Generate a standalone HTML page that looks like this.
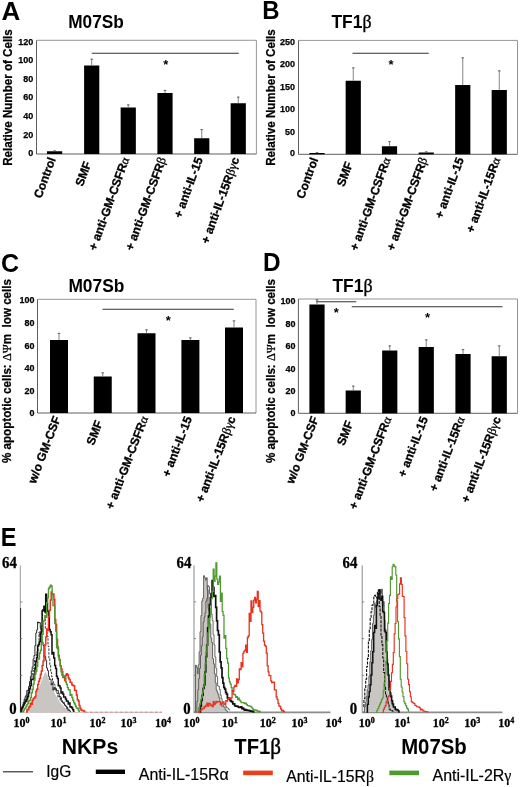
<!DOCTYPE html>
<html><head><meta charset="utf-8"><title>Figure</title>
<style>
html,body{margin:0;padding:0;background:#fff;}
body{width:520px;height:787px;overflow:hidden;font-family:"Liberation Sans",sans-serif;}
svg{display:block;will-change:transform;}
text{fill:#000;}
</style></head><body>
<svg width="520" height="787" viewBox="0 0 520 787">
<rect x="0" y="0" width="520" height="787" fill="#fff"/>
<text x="1.5" y="19.5" font-family='"Liberation Sans", sans-serif' font-size="26" font-weight="bold" text-anchor="start" >A</text>
<text x="68.2" y="27.6" font-family='"Liberation Sans", sans-serif' font-size="18.7" font-weight="bold" text-anchor="start" lengthAdjust="spacingAndGlyphs" textLength="55.6">M07Sb</text>
<path d="M36.5 40.3 H256.4 V154" fill="none" stroke="#969696" stroke-width="1"/>
<path d="M36.5 40.3 V154 H256.4" fill="none" stroke="#5e5e5e" stroke-width="1"/>
<text x="33.2" y="44.58" font-family='"Liberation Sans", sans-serif' font-size="9.3" font-weight="bold" text-anchor="end" lengthAdjust="spacingAndGlyphs" textLength="15.0" stroke="#000" stroke-width="0.25">120</text>
<text x="33.2" y="63.33" font-family='"Liberation Sans", sans-serif' font-size="9.3" font-weight="bold" text-anchor="end" lengthAdjust="spacingAndGlyphs" textLength="15.0" stroke="#000" stroke-width="0.25">100</text>
<text x="33.2" y="82.08" font-family='"Liberation Sans", sans-serif' font-size="9.3" font-weight="bold" text-anchor="end" lengthAdjust="spacingAndGlyphs" textLength="10.0" stroke="#000" stroke-width="0.25">80</text>
<text x="33.2" y="100.33" font-family='"Liberation Sans", sans-serif' font-size="9.3" font-weight="bold" text-anchor="end" lengthAdjust="spacingAndGlyphs" textLength="10.0" stroke="#000" stroke-width="0.25">60</text>
<text x="33.2" y="118.83" font-family='"Liberation Sans", sans-serif' font-size="9.3" font-weight="bold" text-anchor="end" lengthAdjust="spacingAndGlyphs" textLength="10.0" stroke="#000" stroke-width="0.25">40</text>
<text x="33.2" y="137.83" font-family='"Liberation Sans", sans-serif' font-size="9.3" font-weight="bold" text-anchor="end" lengthAdjust="spacingAndGlyphs" textLength="10.0" stroke="#000" stroke-width="0.25">20</text>
<text x="33.2" y="156.33" font-family='"Liberation Sans", sans-serif' font-size="9.3" font-weight="bold" text-anchor="end" lengthAdjust="spacingAndGlyphs" textLength="5.0" stroke="#000" stroke-width="0.25">0</text>
<rect x="47.0" y="151.25" width="15.2" height="2.75" fill="#000"/>
<line x1="54.6" y1="150.4" x2="54.6" y2="151.25" stroke="#666" stroke-width="0.8"/>
<line x1="53.300000000000004" y1="150.8" x2="55.9" y2="150.8" stroke="#555" stroke-width="0.9"/>
<text transform="translate(55.9 159.0) rotate(-70)" font-family='"Liberation Sans", sans-serif' font-size="12" font-weight="bold" text-anchor="end" stroke="#000" stroke-width="0.3">Control</text>
<rect x="84.10000000000001" y="65.5" width="15.2" height="88.5" fill="#000"/>
<line x1="91.7" y1="58.8" x2="91.7" y2="65.5" stroke="#666" stroke-width="0.8"/>
<line x1="90.4" y1="59.199999999999996" x2="93.0" y2="59.199999999999996" stroke="#555" stroke-width="0.9"/>
<text transform="translate(91.46 163.23) rotate(-70)" font-family='"Liberation Sans", sans-serif' font-size="12" font-weight="bold" text-anchor="end" stroke="#000" stroke-width="0.3">SMF</text>
<rect x="120.65" y="107.5" width="15.2" height="46.5" fill="#000"/>
<line x1="128.25" y1="104.5" x2="128.25" y2="107.5" stroke="#666" stroke-width="0.8"/>
<line x1="126.95" y1="104.9" x2="129.55" y2="104.9" stroke="#555" stroke-width="0.9"/>
<text transform="translate(129.55 159.0) rotate(-70)" font-family='"Liberation Sans", sans-serif' font-size="12" font-weight="bold" text-anchor="end" stroke="#000" stroke-width="0.3">+ anti-GM-CSFR<tspan font-family='"Liberation Serif", serif' font-weight="normal" font-size="12.5" stroke="#000" stroke-width="0.3">α</tspan></text>
<rect x="157.4" y="93" width="15.2" height="61" fill="#000"/>
<line x1="165" y1="90" x2="165" y2="93" stroke="#666" stroke-width="0.8"/>
<line x1="163.7" y1="90.4" x2="166.3" y2="90.4" stroke="#555" stroke-width="0.9"/>
<text transform="translate(166.3 159.0) rotate(-70)" font-family='"Liberation Sans", sans-serif' font-size="12" font-weight="bold" text-anchor="end" stroke="#000" stroke-width="0.3">+ anti-GM-CSFR<tspan font-family='"Liberation Serif", serif' font-weight="normal" font-size="12.5" stroke="#000" stroke-width="0.3">β</tspan></text>
<rect x="194.15" y="138.25" width="15.2" height="15.75" fill="#000"/>
<line x1="201.75" y1="129.25" x2="201.75" y2="138.25" stroke="#666" stroke-width="0.8"/>
<line x1="200.45" y1="129.65" x2="203.05" y2="129.65" stroke="#555" stroke-width="0.9"/>
<text transform="translate(203.05 159.0) rotate(-70)" font-family='"Liberation Sans", sans-serif' font-size="12" font-weight="bold" text-anchor="end" stroke="#000" stroke-width="0.3">+ anti-IL-15</text>
<rect x="230.65" y="103.25" width="15.2" height="50.75" fill="#000"/>
<line x1="238.25" y1="96.75" x2="238.25" y2="103.25" stroke="#666" stroke-width="0.8"/>
<line x1="236.95" y1="97.15" x2="239.55" y2="97.15" stroke="#555" stroke-width="0.9"/>
<text transform="translate(239.55 159.0) rotate(-70)" font-family='"Liberation Sans", sans-serif' font-size="12" font-weight="bold" text-anchor="end" stroke="#000" stroke-width="0.3">+ anti-IL-15R<tspan font-family='"Liberation Serif", serif' font-weight="normal" font-size="12.5" stroke="#000" stroke-width="0.3">β</tspan><tspan font-family='"Liberation Serif", serif' font-weight="normal" font-size="12.5" stroke="#000" stroke-width="0.3">γ</tspan>c</text>
<line x1="91.75" y1="53.25" x2="238.75" y2="53.25" stroke="#333" stroke-width="1"/>
<text x="165.75" y="69" font-family='"Liberation Sans", sans-serif' font-size="13" font-weight="bold" text-anchor="middle" >*</text>
<text transform="translate(12.1 97.5) rotate(-90)" font-family='"Liberation Sans", sans-serif' font-size="12.2" font-weight="bold" text-anchor="middle" stroke="#000" stroke-width="0.25" textLength="136.6" lengthAdjust="spacingAndGlyphs">Relative Number of Cells</text>
<text x="262.2" y="18.7" font-family='"Liberation Sans", sans-serif' font-size="25.2" font-weight="bold" text-anchor="start" lengthAdjust="spacingAndGlyphs" textLength="17.3">B</text>
<text x="331.5" y="27.5" font-family='"Liberation Sans", sans-serif' font-size="18.5" font-weight="bold" text-anchor="start" lengthAdjust="spacingAndGlyphs" textLength="40">TF1<tspan font-family='"Liberation Serif", serif' font-weight="normal" font-size="19" stroke="#000" stroke-width="0.4">β</tspan></text>
<path d="M298.5 40.4 H517.5 V154.3" fill="none" stroke="#969696" stroke-width="1"/>
<path d="M298.5 40.4 V154.3 H517.5" fill="none" stroke="#5e5e5e" stroke-width="1"/>
<text x="295" y="44.58" font-family='"Liberation Sans", sans-serif' font-size="9.3" font-weight="bold" text-anchor="end" lengthAdjust="spacingAndGlyphs" textLength="15.0" stroke="#000" stroke-width="0.25">250</text>
<text x="295" y="67.08" font-family='"Liberation Sans", sans-serif' font-size="9.3" font-weight="bold" text-anchor="end" lengthAdjust="spacingAndGlyphs" textLength="15.0" stroke="#000" stroke-width="0.25">200</text>
<text x="295" y="89.58" font-family='"Liberation Sans", sans-serif' font-size="9.3" font-weight="bold" text-anchor="end" lengthAdjust="spacingAndGlyphs" textLength="15.0" stroke="#000" stroke-width="0.25">150</text>
<text x="295" y="112.08" font-family='"Liberation Sans", sans-serif' font-size="9.3" font-weight="bold" text-anchor="end" lengthAdjust="spacingAndGlyphs" textLength="15.0" stroke="#000" stroke-width="0.25">100</text>
<text x="295" y="134.58" font-family='"Liberation Sans", sans-serif' font-size="9.3" font-weight="bold" text-anchor="end" lengthAdjust="spacingAndGlyphs" textLength="10.0" stroke="#000" stroke-width="0.25">50</text>
<text x="295" y="156.33" font-family='"Liberation Sans", sans-serif' font-size="9.3" font-weight="bold" text-anchor="end" lengthAdjust="spacingAndGlyphs" textLength="5.0" stroke="#000" stroke-width="0.25">0</text>
<rect x="309.4" y="153" width="15.2" height="1.3000000000000114" fill="#000"/>
<line x1="317" y1="152.3" x2="317" y2="153" stroke="#666" stroke-width="0.8"/>
<line x1="315.7" y1="152.70000000000002" x2="318.3" y2="152.70000000000002" stroke="#555" stroke-width="0.9"/>
<text transform="translate(318.3 159.3) rotate(-70)" font-family='"Liberation Sans", sans-serif' font-size="12" font-weight="bold" text-anchor="end" stroke="#000" stroke-width="0.3">Control</text>
<rect x="345.65" y="80.75" width="15.2" height="73.55000000000001" fill="#000"/>
<line x1="353.25" y1="67.5" x2="353.25" y2="80.75" stroke="#666" stroke-width="0.8"/>
<line x1="351.95" y1="67.9" x2="354.55" y2="67.9" stroke="#555" stroke-width="0.9"/>
<text transform="translate(353.01 163.53) rotate(-70)" font-family='"Liberation Sans", sans-serif' font-size="12" font-weight="bold" text-anchor="end" stroke="#000" stroke-width="0.3">SMF</text>
<rect x="381.9" y="146.25" width="15.2" height="8.050000000000011" fill="#000"/>
<line x1="389.5" y1="141.25" x2="389.5" y2="146.25" stroke="#666" stroke-width="0.8"/>
<line x1="388.2" y1="141.65" x2="390.8" y2="141.65" stroke="#555" stroke-width="0.9"/>
<text transform="translate(390.8 159.3) rotate(-70)" font-family='"Liberation Sans", sans-serif' font-size="12" font-weight="bold" text-anchor="end" stroke="#000" stroke-width="0.3">+ anti-GM-CSFR<tspan font-family='"Liberation Serif", serif' font-weight="normal" font-size="12.5" stroke="#000" stroke-width="0.3">α</tspan></text>
<rect x="418.65" y="152.5" width="15.2" height="1.8000000000000114" fill="#000"/>
<line x1="426.25" y1="151.5" x2="426.25" y2="152.5" stroke="#666" stroke-width="0.8"/>
<line x1="424.95" y1="151.9" x2="427.55" y2="151.9" stroke="#555" stroke-width="0.9"/>
<text transform="translate(427.55 159.3) rotate(-70)" font-family='"Liberation Sans", sans-serif' font-size="12" font-weight="bold" text-anchor="end" stroke="#000" stroke-width="0.3">+ anti-GM-CSFR<tspan font-family='"Liberation Serif", serif' font-weight="normal" font-size="12.5" stroke="#000" stroke-width="0.3">β</tspan></text>
<rect x="455.15" y="85" width="15.2" height="69.30000000000001" fill="#000"/>
<line x1="462.75" y1="57.5" x2="462.75" y2="85" stroke="#666" stroke-width="0.8"/>
<line x1="461.45" y1="57.9" x2="464.05" y2="57.9" stroke="#555" stroke-width="0.9"/>
<text transform="translate(464.05 159.3) rotate(-70)" font-family='"Liberation Sans", sans-serif' font-size="12" font-weight="bold" text-anchor="end" stroke="#000" stroke-width="0.3">+ anti-IL-15</text>
<rect x="491.65" y="90" width="15.2" height="64.30000000000001" fill="#000"/>
<line x1="499.25" y1="70.5" x2="499.25" y2="90" stroke="#666" stroke-width="0.8"/>
<line x1="497.95" y1="70.9" x2="500.55" y2="70.9" stroke="#555" stroke-width="0.9"/>
<text transform="translate(500.55 159.3) rotate(-70)" font-family='"Liberation Sans", sans-serif' font-size="12" font-weight="bold" text-anchor="end" stroke="#000" stroke-width="0.3">+ anti-IL-15R<tspan font-family='"Liberation Serif", serif' font-weight="normal" font-size="12.5" stroke="#000" stroke-width="0.3">α</tspan></text>
<line x1="352.5" y1="53.25" x2="428.75" y2="53.25" stroke="#333" stroke-width="1"/>
<text x="391" y="68.5" font-family='"Liberation Sans", sans-serif' font-size="13" font-weight="bold" text-anchor="middle" >*</text>
<text transform="translate(274.8 97.5) rotate(-90)" font-family='"Liberation Sans", sans-serif' font-size="12.2" font-weight="bold" text-anchor="middle" stroke="#000" stroke-width="0.25" textLength="136.6" lengthAdjust="spacingAndGlyphs">Relative Number of Cells</text>
<text x="0.9" y="271.8" font-family='"Liberation Sans", sans-serif' font-size="25" font-weight="bold" text-anchor="start" >C</text>
<text x="68.4" y="292" font-family='"Liberation Sans", sans-serif' font-size="18.7" font-weight="bold" text-anchor="start" lengthAdjust="spacingAndGlyphs" textLength="56">M07Sb</text>
<path d="M37.5 299.3 H256.0 V413" fill="none" stroke="#969696" stroke-width="1"/>
<path d="M37.5 299.3 V413 H256.0" fill="none" stroke="#5e5e5e" stroke-width="1"/>
<text x="34.5" y="303.07" font-family='"Liberation Sans", sans-serif' font-size="9.7" font-weight="bold" text-anchor="end" lengthAdjust="spacingAndGlyphs" textLength="15.0" stroke="#000" stroke-width="0.25">100</text>
<text x="34.5" y="326.37" font-family='"Liberation Sans", sans-serif' font-size="9.7" font-weight="bold" text-anchor="end" lengthAdjust="spacingAndGlyphs" textLength="10.0" stroke="#000" stroke-width="0.25">80</text>
<text x="34.5" y="348.87" font-family='"Liberation Sans", sans-serif' font-size="9.7" font-weight="bold" text-anchor="end" lengthAdjust="spacingAndGlyphs" textLength="10.0" stroke="#000" stroke-width="0.25">60</text>
<text x="34.5" y="371.37" font-family='"Liberation Sans", sans-serif' font-size="9.7" font-weight="bold" text-anchor="end" lengthAdjust="spacingAndGlyphs" textLength="10.0" stroke="#000" stroke-width="0.25">40</text>
<text x="34.5" y="393.87" font-family='"Liberation Sans", sans-serif' font-size="9.7" font-weight="bold" text-anchor="end" lengthAdjust="spacingAndGlyphs" textLength="10.0" stroke="#000" stroke-width="0.25">20</text>
<text x="34.5" y="416.17" font-family='"Liberation Sans", sans-serif' font-size="9.7" font-weight="bold" text-anchor="end" lengthAdjust="spacingAndGlyphs" textLength="5.0" stroke="#000" stroke-width="0.25">0</text>
<rect x="50.0" y="340" width="18" height="73" fill="#000"/>
<line x1="59" y1="333" x2="59" y2="340" stroke="#666" stroke-width="0.8"/>
<line x1="57.7" y1="333.4" x2="60.3" y2="333.4" stroke="#555" stroke-width="0.9"/>
<text transform="translate(60.8 418.2) rotate(-69)" font-family='"Liberation Sans", sans-serif' font-size="12" font-weight="bold" text-anchor="end" stroke="#000" stroke-width="0.3">w/o GM-CSF</text>
<rect x="93.75" y="376.5" width="18" height="36.5" fill="#000"/>
<line x1="102.75" y1="372.5" x2="102.75" y2="376.5" stroke="#666" stroke-width="0.8"/>
<line x1="101.45" y1="372.9" x2="104.05" y2="372.9" stroke="#555" stroke-width="0.9"/>
<text transform="translate(102.94 422.4) rotate(-69)" font-family='"Liberation Sans", sans-serif' font-size="12" font-weight="bold" text-anchor="end" stroke="#000" stroke-width="0.3">SMF</text>
<rect x="137.5" y="333.25" width="18" height="79.75" fill="#000"/>
<line x1="146.5" y1="329.5" x2="146.5" y2="333.25" stroke="#666" stroke-width="0.8"/>
<line x1="145.2" y1="329.9" x2="147.8" y2="329.9" stroke="#555" stroke-width="0.9"/>
<text transform="translate(148.3 418.2) rotate(-69)" font-family='"Liberation Sans", sans-serif' font-size="12" font-weight="bold" text-anchor="end" stroke="#000" stroke-width="0.3">+ anti-GM-CSFR<tspan font-family='"Liberation Serif", serif' font-weight="normal" font-size="12.5" stroke="#000" stroke-width="0.3">α</tspan></text>
<rect x="181.4" y="340" width="18" height="73" fill="#000"/>
<line x1="190.4" y1="337.5" x2="190.4" y2="340" stroke="#666" stroke-width="0.8"/>
<line x1="189.1" y1="337.9" x2="191.70000000000002" y2="337.9" stroke="#555" stroke-width="0.9"/>
<text transform="translate(192.2 418.2) rotate(-69)" font-family='"Liberation Sans", sans-serif' font-size="12" font-weight="bold" text-anchor="end" stroke="#000" stroke-width="0.3">+ anti-IL-15</text>
<rect x="225.0" y="327.5" width="18" height="85.5" fill="#000"/>
<line x1="234" y1="320.5" x2="234" y2="327.5" stroke="#666" stroke-width="0.8"/>
<line x1="232.7" y1="320.9" x2="235.3" y2="320.9" stroke="#555" stroke-width="0.9"/>
<text transform="translate(235.8 418.2) rotate(-69)" font-family='"Liberation Sans", sans-serif' font-size="12" font-weight="bold" text-anchor="end" stroke="#000" stroke-width="0.3">+ anti-IL-15R<tspan font-family='"Liberation Serif", serif' font-weight="normal" font-size="12.5" stroke="#000" stroke-width="0.3">β</tspan><tspan font-family='"Liberation Serif", serif' font-weight="normal" font-size="12.5" stroke="#000" stroke-width="0.3">γ</tspan>c</text>
<line x1="102.5" y1="309.25" x2="233.75" y2="309.25" stroke="#333" stroke-width="1"/>
<text x="168.25" y="324.75" font-family='"Liberation Sans", sans-serif' font-size="13" font-weight="bold" text-anchor="middle" >*</text>
<text transform="translate(11.2 371) rotate(-90)" font-family='"Liberation Sans", sans-serif' font-size="12.4" font-weight="bold" text-anchor="middle" stroke="#000" stroke-width="0.25" textLength="184" lengthAdjust="spacingAndGlyphs">% apoptotic cells: <tspan font-family='"Liberation Serif", serif' font-weight="normal" font-size="13">ΔΨ</tspan>m&#160;&#160;low cells</text>
<text x="263.0" y="271.1" font-family='"Liberation Sans", sans-serif' font-size="25.5" font-weight="bold" text-anchor="start" lengthAdjust="spacingAndGlyphs" textLength="17.6">D</text>
<text x="332.5" y="291.6" font-family='"Liberation Sans", sans-serif' font-size="18.5" font-weight="bold" text-anchor="start" lengthAdjust="spacingAndGlyphs" textLength="40">TF1<tspan font-family='"Liberation Serif", serif' font-weight="normal" font-size="19" stroke="#000" stroke-width="0.4">β</tspan></text>
<path d="M298.4 299 H517.5 V413.3" fill="none" stroke="#969696" stroke-width="1"/>
<path d="M298.4 299 V413.3 H517.5" fill="none" stroke="#5e5e5e" stroke-width="1"/>
<text x="295.4" y="304.07" font-family='"Liberation Sans", sans-serif' font-size="9.7" font-weight="bold" text-anchor="end" lengthAdjust="spacingAndGlyphs" textLength="15.0" stroke="#000" stroke-width="0.25">100</text>
<text x="295.4" y="326.57" font-family='"Liberation Sans", sans-serif' font-size="9.7" font-weight="bold" text-anchor="end" lengthAdjust="spacingAndGlyphs" textLength="10.0" stroke="#000" stroke-width="0.25">80</text>
<text x="295.4" y="349.07" font-family='"Liberation Sans", sans-serif' font-size="9.7" font-weight="bold" text-anchor="end" lengthAdjust="spacingAndGlyphs" textLength="10.0" stroke="#000" stroke-width="0.25">60</text>
<text x="295.4" y="371.57" font-family='"Liberation Sans", sans-serif' font-size="9.7" font-weight="bold" text-anchor="end" lengthAdjust="spacingAndGlyphs" textLength="10.0" stroke="#000" stroke-width="0.25">40</text>
<text x="295.4" y="394.07" font-family='"Liberation Sans", sans-serif' font-size="9.7" font-weight="bold" text-anchor="end" lengthAdjust="spacingAndGlyphs" textLength="10.0" stroke="#000" stroke-width="0.25">20</text>
<text x="295.4" y="416.47" font-family='"Liberation Sans", sans-serif' font-size="9.7" font-weight="bold" text-anchor="end" lengthAdjust="spacingAndGlyphs" textLength="5.0" stroke="#000" stroke-width="0.25">0</text>
<rect x="309.4" y="304.5" width="15.2" height="108.80000000000001" fill="#000"/>
<line x1="317" y1="299.5" x2="317" y2="304.5" stroke="#666" stroke-width="0.8"/>
<line x1="315.7" y1="299.9" x2="318.3" y2="299.9" stroke="#555" stroke-width="0.9"/>
<text transform="translate(318.8 418.5) rotate(-69)" font-family='"Liberation Sans", sans-serif' font-size="12" font-weight="bold" text-anchor="end" stroke="#000" stroke-width="0.3">w/o GM-CSF</text>
<rect x="345.65" y="390.5" width="15.2" height="22.80000000000001" fill="#000"/>
<line x1="353.25" y1="385.75" x2="353.25" y2="390.5" stroke="#666" stroke-width="0.8"/>
<line x1="351.95" y1="386.15" x2="354.55" y2="386.15" stroke="#555" stroke-width="0.9"/>
<text transform="translate(353.44 422.7) rotate(-69)" font-family='"Liberation Sans", sans-serif' font-size="12" font-weight="bold" text-anchor="end" stroke="#000" stroke-width="0.3">SMF</text>
<rect x="382.15" y="350.5" width="15.2" height="62.80000000000001" fill="#000"/>
<line x1="389.75" y1="345.5" x2="389.75" y2="350.5" stroke="#666" stroke-width="0.8"/>
<line x1="388.45" y1="345.9" x2="391.05" y2="345.9" stroke="#555" stroke-width="0.9"/>
<text transform="translate(391.55 418.5) rotate(-69)" font-family='"Liberation Sans", sans-serif' font-size="12" font-weight="bold" text-anchor="end" stroke="#000" stroke-width="0.3">+ anti-GM-CSFR<tspan font-family='"Liberation Serif", serif' font-weight="normal" font-size="12.5" stroke="#000" stroke-width="0.3">α</tspan></text>
<rect x="418.65" y="347" width="15.2" height="66.30000000000001" fill="#000"/>
<line x1="426.25" y1="339.5" x2="426.25" y2="347" stroke="#666" stroke-width="0.8"/>
<line x1="424.95" y1="339.9" x2="427.55" y2="339.9" stroke="#555" stroke-width="0.9"/>
<text transform="translate(428.05 418.5) rotate(-69)" font-family='"Liberation Sans", sans-serif' font-size="12" font-weight="bold" text-anchor="end" stroke="#000" stroke-width="0.3">+ anti-IL-15</text>
<rect x="455.4" y="354" width="15.2" height="59.30000000000001" fill="#000"/>
<line x1="463" y1="349.25" x2="463" y2="354" stroke="#666" stroke-width="0.8"/>
<line x1="461.7" y1="349.65" x2="464.3" y2="349.65" stroke="#555" stroke-width="0.9"/>
<text transform="translate(464.8 418.5) rotate(-69)" font-family='"Liberation Sans", sans-serif' font-size="12" font-weight="bold" text-anchor="end" stroke="#000" stroke-width="0.3">+ anti-IL-15R<tspan font-family='"Liberation Serif", serif' font-weight="normal" font-size="12.5" stroke="#000" stroke-width="0.3">α</tspan></text>
<rect x="491.65" y="356.25" width="15.2" height="57.05000000000001" fill="#000"/>
<line x1="499.25" y1="345.5" x2="499.25" y2="356.25" stroke="#666" stroke-width="0.8"/>
<line x1="497.95" y1="345.9" x2="500.55" y2="345.9" stroke="#555" stroke-width="0.9"/>
<text transform="translate(501.05 418.5) rotate(-69)" font-family='"Liberation Sans", sans-serif' font-size="12" font-weight="bold" text-anchor="end" stroke="#000" stroke-width="0.3">+ anti-IL-15R<tspan font-family='"Liberation Serif", serif' font-weight="normal" font-size="12.5" stroke="#000" stroke-width="0.3">β</tspan><tspan font-family='"Liberation Serif", serif' font-weight="normal" font-size="12.5" stroke="#000" stroke-width="0.3">γ</tspan>c</text>
<line x1="316.25" y1="301.75" x2="356.25" y2="301.75" stroke="#333" stroke-width="1"/>
<line x1="351.75" y1="306.75" x2="502.5" y2="306.75" stroke="#333" stroke-width="1"/>
<text x="336.25" y="316.5" font-family='"Liberation Sans", sans-serif' font-size="13" font-weight="bold" text-anchor="middle" >*</text>
<text x="427.5" y="321.5" font-family='"Liberation Sans", sans-serif' font-size="13" font-weight="bold" text-anchor="middle" >*</text>
<text transform="translate(275 371) rotate(-90)" font-family='"Liberation Sans", sans-serif' font-size="12.4" font-weight="bold" text-anchor="middle" stroke="#000" stroke-width="0.25" textLength="184" lengthAdjust="spacingAndGlyphs">% apoptotic cells: <tspan font-family='"Liberation Serif", serif' font-weight="normal" font-size="13">ΔΨ</tspan>m&#160;&#160;low cells</text>
<text x="0.8" y="546" font-family='"Liberation Sans", sans-serif' font-size="25.3" font-weight="bold" text-anchor="start" lengthAdjust="spacingAndGlyphs" textLength="15.7">E</text>
<line x1="20.3" y1="565.4" x2="20.3" y2="608" stroke="#999" stroke-width="1"/>
<line x1="20.5" y1="608" x2="20.5" y2="713" stroke="#333" stroke-width="1.2"/>
<line x1="20.3" y1="601.9" x2="22.3" y2="601.9" stroke="#777" stroke-width="0.9"/>
<line x1="20.3" y1="638.6" x2="22.3" y2="638.6" stroke="#777" stroke-width="0.9"/>
<line x1="20.3" y1="675.4" x2="22.3" y2="675.4" stroke="#777" stroke-width="0.9"/>
<line x1="20.3" y1="712.3" x2="162" y2="712.3" stroke="#cfc6c4" stroke-width="1.2"/>
<text x="2" y="568.2" font-family='"Liberation Serif", serif' font-size="16.3" font-weight="bold" text-anchor="start" lengthAdjust="spacingAndGlyphs" textLength="14.8" stroke="#000" stroke-width="0.3">64</text>
<text x="9.3" y="714.1" font-family='"Liberation Serif", serif' font-size="16.3" font-weight="bold" text-anchor="start" lengthAdjust="spacingAndGlyphs" textLength="7.4" stroke="#000" stroke-width="0.3">0</text>
<text x="13.5" y="726.5" font-family='"Liberation Serif", serif' font-size="12" font-weight="bold" text-anchor="start" stroke="#000" stroke-width="0.3">10<tspan font-size="8" dy="-4">0</tspan></text>
<text x="50.6" y="726.5" font-family='"Liberation Serif", serif' font-size="12" font-weight="bold" text-anchor="start" stroke="#000" stroke-width="0.3">10<tspan font-size="8" dy="-4">1</tspan></text>
<text x="89.60000000000001" y="726.5" font-family='"Liberation Serif", serif' font-size="12" font-weight="bold" text-anchor="start" stroke="#000" stroke-width="0.3">10<tspan font-size="8" dy="-4">2</tspan></text>
<text x="120.4" y="726.5" font-family='"Liberation Serif", serif' font-size="12" font-weight="bold" text-anchor="start" stroke="#000" stroke-width="0.3">10<tspan font-size="8" dy="-4">3</tspan></text>
<text x="154.9" y="726.5" font-family='"Liberation Serif", serif' font-size="12" font-weight="bold" text-anchor="start" stroke="#000" stroke-width="0.3">10<tspan font-size="8" dy="-4">4</tspan></text>
<path transform="translate(0 0.8)" d="M25.5 711.3 L31 701 L36 694 L38.9 687 L42.5 678 L45.4 670.4 L48 677 L51.8 686 L56 695 L61 702.6 L66 708 L70.2 711.3 Z" fill="#c9c5c2"/>
<path transform="translate(0 0.8)" d="M20.5 711.2 L21.4 711.2 L21.4 708.5 L22.3 708.5 L22.3 705.7 L23.2 705.7 L23.2 701.6 L24.1 701.6 L24.1 698.6 L25.0 698.6 L25.0 695.9 L25.9 695.9 L25.9 694.4 L26.8 694.4 L26.8 689.5 L27.7 689.5 L27.7 690.1 L28.6 690.1 L28.6 685.6 L29.5 685.6 L29.5 680.7 L30.4 680.7 L30.4 675.7 L31.3 675.7 L31.3 670.1 L32.2 670.1 L32.2 666.2 L33.1 666.2 L33.1 658.2 L34.0 658.2 L34.0 654.7 L34.9 654.7 L34.9 644.8 L35.8 644.8 L35.8 632.2 L36.7 632.2 L36.7 629.1 L37.6 629.1 L37.6 621.2 L38.5 621.2 L38.5 622.2 L39.4 622.2 L39.4 621.7 L40.3 621.7 L40.3 627.1 L41.2 627.1 L41.2 642.0 L42.1 642.0 L42.1 641.1 L43.0 641.1 L43.0 644.7 L43.9 644.7 L43.9 656.1 L44.8 656.1 L44.8 655.8 L45.7 655.8 L45.7 659.6 L46.6 659.6 L46.6 667.3 L47.5 667.3 L47.5 669.7 L48.4 669.7 L48.4 675.5 L49.3 675.5 L49.3 678.6 L50.2 678.6 L50.2 678.4 L51.1 678.4 L51.1 684.1 L52.0 684.1 L52.0 682.2 L52.9 682.2 L52.9 689.3 L53.8 689.3 L53.8 686.7 L54.7 686.7 L54.7 688.8 L55.6 688.8 L55.6 687.9 L56.5 687.9 L56.5 689.9 L57.4 689.9 L57.4 689.6 L58.3 689.6 L58.3 692.6 L59.2 692.6 L59.2 695.8 L60.1 695.8 L60.1 696.0 L61.0 696.0 L61.0 700.3 L61.9 700.3 L61.9 701.0 L62.8 701.0 L62.8 702.0 L63.7 702.0 L63.7 703.2 L64.6 703.2 L64.6 704.4 L65.5 704.4 L65.5 705.2 L66.4 705.2 L66.4 706.0 L67.3 706.0 L67.3 708.0 L68.2 708.0 L68.2 708.5 L69.1 708.5 L69.1 709.7 L70.0 709.7 L70.0 710.8 L70.9 710.8" fill="none" stroke="#111" stroke-width="0.9" stroke-linejoin="miter" opacity="1"/>
<path transform="translate(0 0.8)" d="M21.0 711.0 L21.9 711.0 L21.9 708.7 L22.8 708.7 L22.8 706.2 L23.7 706.2 L23.7 703.7 L24.6 703.7 L24.6 701.2 L25.5 701.2 L25.5 697.2 L26.4 697.2 L26.4 695.2 L27.3 695.2 L27.3 692.2 L28.2 692.2 L28.2 689.8 L29.1 689.8 L29.1 686.2 L30.0 686.2 L30.0 682.7 L30.9 682.7 L30.9 676.3 L31.8 676.3 L31.8 676.3 L32.7 676.3 L32.7 670.6 L33.6 670.6 L33.6 667.3 L34.5 667.3 L34.5 659.2 L35.4 659.2 L35.4 660.9 L36.3 660.9 L36.3 652.2 L37.2 652.2 L37.2 650.0 L38.1 650.0 L38.1 643.8 L39.0 643.8 L39.0 631.2 L39.9 631.2 L39.9 634.3 L40.8 634.3 L40.8 625.2 L41.7 625.2 L41.7 630.2 L42.6 630.2 L42.6 608.7 L43.5 608.7 L43.5 608.9 L44.4 608.9 L44.4 609.9 L45.3 609.9 L45.3 628.4 L46.2 628.4 L46.2 628.5 L47.1 628.5 L47.1 635.2 L48.0 635.2 L48.0 645.6 L48.9 645.6 L48.9 657.8 L49.8 657.8 L49.8 664.3 L50.7 664.3 L50.7 671.5 L51.6 671.5 L51.6 675.9 L52.5 675.9 L52.5 680.9 L53.4 680.9 L53.4 682.9 L54.3 682.9 L54.3 684.1 L55.2 684.1 L55.2 688.7 L56.1 688.7 L56.1 691.7 L57.0 691.7 L57.0 692.8 L57.9 692.8 L57.9 696.6 L58.8 696.6 L58.8 695.7 L59.7 695.7 L59.7 698.4 L60.6 698.4 L60.6 696.9 L61.5 696.9 L61.5 698.9 L62.4 698.9 L62.4 701.2 L63.3 701.2 L63.3 701.0 L64.2 701.0 L64.2 703.2 L65.1 703.2 L65.1 705.0 L66.0 705.0 L66.0 706.4 L66.9 706.4 L66.9 708.5 L67.8 708.5 L67.8 709.6 L68.7 709.6" fill="none" stroke="#222" stroke-width="0.9" stroke-linejoin="miter" opacity="1" stroke-dasharray="2.5 1.2"/>
<path transform="translate(0 0.8)" d="M20.5 710.1 L21.4 710.1 L21.4 707.3 L22.3 707.3 L22.3 706.1 L23.2 706.1 L23.2 704.3 L24.1 704.3 L24.1 702.7 L25.0 702.7 L25.0 700.4 L25.9 700.4 L25.9 700.8 L26.8 700.8 L26.8 698.3 L27.7 698.3 L27.7 695.7 L28.6 695.7 L28.6 692.0 L29.5 692.0 L29.5 688.0 L30.4 688.0 L30.4 684.7 L31.3 684.7 L31.3 678.5 L32.2 678.5 L32.2 678.6 L33.1 678.6 L33.1 678.3 L34.0 678.3 L34.0 673.4 L34.9 673.4 L34.9 667.9 L35.8 667.9 L35.8 660.8 L36.7 660.8 L36.7 657.0 L37.6 657.0 L37.6 645.2 L38.5 645.2 L38.5 643.6 L39.4 643.6 L39.4 640.6 L40.3 640.6 L40.3 633.0 L41.2 633.0 L41.2 630.9 L42.1 630.9 L42.1 610.2 L43.0 610.2 L43.0 608.9 L43.9 608.9 L43.9 605.4 L44.8 605.4 L44.8 610.9 L45.7 610.9 L45.7 593.5 L46.6 593.5 L46.6 603.0 L47.5 603.0 L47.5 610.4 L48.4 610.4 L48.4 614.1 L49.3 614.1 L49.3 628.6 L50.2 628.6 L50.2 630.9 L51.1 630.9 L51.1 633.9 L52.0 633.9 L52.0 653.1 L52.9 653.1 L52.9 651.8 L53.8 651.8 L53.8 657.1 L54.7 657.1 L54.7 664.6 L55.6 664.6 L55.6 667.7 L56.5 667.7 L56.5 675.5 L57.4 675.5 L57.4 677.7 L58.3 677.7 L58.3 684.8 L59.2 684.8 L59.2 685.1 L60.1 685.1 L60.1 687.3 L61.0 687.3 L61.0 692.1 L61.9 692.1 L61.9 691.2 L62.8 691.2 L62.8 693.2 L63.7 693.2 L63.7 696.3 L64.6 696.3 L64.6 696.2 L65.5 696.2 L65.5 698.3 L66.4 698.3 L66.4 700.3 L67.3 700.3 L67.3 700.4 L68.2 700.4 L68.2 703.1 L69.1 703.1 L69.1 702.1 L70.0 702.1 L70.0 706.1 L70.9 706.1 L70.9 706.0 L71.8 706.0 L71.8 707.3 L72.7 707.3 L72.7 708.9 L73.6 708.9 L73.6 710.5 L74.5 710.5" fill="none" stroke="#111" stroke-width="1.5" stroke-linejoin="miter" opacity="1"/>
<path transform="translate(0 0.8)" d="M26.0 711.1 L26.9 711.1 L26.9 709.2 L27.8 709.2 L27.8 708.6 L28.7 708.6 L28.7 706.5 L29.6 706.5 L29.6 705.8 L30.5 705.8 L30.5 702.4 L31.4 702.4 L31.4 703.5 L32.3 703.5 L32.3 699.4 L33.2 699.4 L33.2 697.8 L34.1 697.8 L34.1 697.2 L35.0 697.2 L35.0 695.9 L35.9 695.9 L35.9 690.4 L36.8 690.4 L36.8 688.5 L37.7 688.5 L37.7 683.7 L38.6 683.7 L38.6 680.5 L39.5 680.5 L39.5 677.8 L40.4 677.8 L40.4 673.6 L41.3 673.6 L41.3 670.3 L42.2 670.3 L42.2 664.8 L43.1 664.8 L43.1 660.2 L44.0 660.2 L44.0 654.9 L44.9 654.9 L44.9 643.9 L45.8 643.9 L45.8 636.3 L46.7 636.3 L46.7 628.3 L47.6 628.3 L47.6 629.6 L48.5 629.6 L48.5 615.9 L49.4 615.9 L49.4 609.5 L50.3 609.5 L50.3 599.3 L51.2 599.3 L51.2 591.2 L52.1 591.2 L52.1 593.7 L53.0 593.7 L53.0 593.1 L53.9 593.1 L53.9 598.8 L54.8 598.8 L54.8 618.6 L55.7 618.6 L55.7 623.6 L56.6 623.6 L56.6 638.4 L57.5 638.4 L57.5 648.0 L58.4 648.0 L58.4 654.6 L59.3 654.6 L59.3 658.6 L60.2 658.6 L60.2 664.9 L61.1 664.9 L61.1 668.3 L62.0 668.3 L62.0 674.3 L62.9 674.3 L62.9 676.6 L63.8 676.6 L63.8 675.4 L64.7 675.4 L64.7 679.6 L65.6 679.6 L65.6 674.4 L66.5 674.4 L66.5 672.9 L67.4 672.9 L67.4 674.2 L68.3 674.2 L68.3 677.3 L69.2 677.3 L69.2 678.7 L70.1 678.7 L70.1 681.4 L71.0 681.4 L71.0 681.6 L71.9 681.6 L71.9 684.1 L72.8 684.1 L72.8 684.7 L73.7 684.7 L73.7 684.9 L74.6 684.9 L74.6 689.4 L75.5 689.4 L75.5 689.6 L76.4 689.6 L76.4 694.3 L77.3 694.3 L77.3 699.0 L78.2 699.0 L78.2 700.1 L79.1 700.1 L79.1 704.6 L80.0 704.6 L80.0 707.5 L80.9 707.5 L80.9 709.2 L81.8 709.2 L81.8 709.8 L82.7 709.8 L82.7 709.7 L83.6 709.7 L83.6 710.2 L84.5 710.2 L84.5 710.8 L85.4 710.8" fill="none" stroke="#e8321e" stroke-width="1.5" stroke-linejoin="miter" opacity="1"/>
<path transform="translate(0 0.8)" d="M22.4 711.1 L23.3 711.1 L23.3 709.8 L24.2 709.8 L24.2 708.1 L25.1 708.1 L25.1 707.2 L26.0 707.2 L26.0 705.5 L26.9 705.5 L26.9 703.8 L27.8 703.8 L27.8 702.5 L28.7 702.5 L28.7 700.1 L29.6 700.1 L29.6 699.6 L30.5 699.6 L30.5 696.8 L31.4 696.8 L31.4 692.1 L32.3 692.1 L32.3 688.7 L33.2 688.7 L33.2 683.3 L34.1 683.3 L34.1 679.2 L35.0 679.2 L35.0 673.3 L35.9 673.3 L35.9 670.4 L36.8 670.4 L36.8 665.4 L37.7 665.4 L37.7 658.2 L38.6 658.2 L38.6 658.2 L39.5 658.2 L39.5 652.2 L40.4 652.2 L40.4 649.5 L41.3 649.5 L41.3 642.4 L42.2 642.4 L42.2 633.5 L43.1 633.5 L43.1 620.5 L44.0 620.5 L44.0 619.6 L44.9 619.6 L44.9 615.0 L45.8 615.0 L45.8 616.6 L46.7 616.6 L46.7 601.9 L47.6 601.9 L47.6 597.1 L48.5 597.1 L48.5 587.7 L49.4 587.7 L49.4 586.2 L50.3 586.2 L50.3 584.4 L51.2 584.4 L51.2 585.4 L52.1 585.4 L52.1 594.4 L53.0 594.4 L53.0 604.7 L53.9 604.7 L53.9 604.6 L54.8 604.6 L54.8 622.7 L55.7 622.7 L55.7 630.3 L56.6 630.3 L56.6 646.7 L57.5 646.7 L57.5 645.8 L58.4 645.8 L58.4 656.3 L59.3 656.3 L59.3 659.3 L60.2 659.3 L60.2 664.8 L61.1 664.8 L61.1 670.9 L62.0 670.9 L62.0 671.0 L62.9 671.0 L62.9 675.5 L63.8 675.5 L63.8 675.7 L64.7 675.7 L64.7 675.4 L65.6 675.4 L65.6 681.2 L66.5 681.2 L66.5 683.6 L67.4 683.6 L67.4 686.8 L68.3 686.8 L68.3 689.0 L69.2 689.0 L69.2 689.1 L70.1 689.1 L70.1 694.4 L71.0 694.4 L71.0 693.6 L71.9 693.6 L71.9 696.7 L72.8 696.7 L72.8 699.4 L73.7 699.4 L73.7 701.7 L74.6 701.7 L74.6 703.2 L75.5 703.2 L75.5 705.5 L76.4 705.5 L76.4 707.2 L77.3 707.2 L77.3 707.5 L78.2 707.5 L78.2 709.3 L79.1 709.3 L79.1 710.6 L80.0 710.6" fill="none" stroke="#4f9a2e" stroke-width="1.4" stroke-linejoin="miter" opacity="1"/>
<line x1="85" y1="712.1" x2="162" y2="712.1" stroke="#e8321e" stroke-width="1" stroke-dasharray="2.5 2.5" opacity="0.45"/>
<text x="61.8" y="754" font-family='"Liberation Sans", sans-serif' font-size="22" font-weight="bold" text-anchor="start" lengthAdjust="spacingAndGlyphs" textLength="56.4">NKPs</text>
<line x1="194" y1="565.4" x2="194" y2="713" stroke="#8a8a8a" stroke-width="1"/>
<line x1="194" y1="601.9" x2="196" y2="601.9" stroke="#777" stroke-width="0.9"/>
<line x1="194" y1="638.6" x2="196" y2="638.6" stroke="#777" stroke-width="0.9"/>
<line x1="194" y1="675.4" x2="196" y2="675.4" stroke="#777" stroke-width="0.9"/>
<line x1="194" y1="712.3" x2="330.5" y2="712.3" stroke="#8c8c8c" stroke-width="1.7"/>
<text x="176.6" y="568.2" font-family='"Liberation Serif", serif' font-size="16.3" font-weight="bold" text-anchor="start" lengthAdjust="spacingAndGlyphs" textLength="14.8" stroke="#000" stroke-width="0.3">64</text>
<text x="183.2" y="714.1" font-family='"Liberation Serif", serif' font-size="16.3" font-weight="bold" text-anchor="start" lengthAdjust="spacingAndGlyphs" textLength="7.4" stroke="#000" stroke-width="0.3">0</text>
<text x="183.5" y="726.5" font-family='"Liberation Serif", serif' font-size="12" font-weight="bold" text-anchor="start" stroke="#000" stroke-width="0.3">10<tspan font-size="8" dy="-4">0</tspan></text>
<text x="221.8" y="726.5" font-family='"Liberation Serif", serif' font-size="12" font-weight="bold" text-anchor="start" stroke="#000" stroke-width="0.3">10<tspan font-size="8" dy="-4">1</tspan></text>
<text x="259.7" y="726.5" font-family='"Liberation Serif", serif' font-size="12" font-weight="bold" text-anchor="start" stroke="#000" stroke-width="0.3">10<tspan font-size="8" dy="-4">2</tspan></text>
<text x="291.4" y="726.5" font-family='"Liberation Serif", serif' font-size="12" font-weight="bold" text-anchor="start" stroke="#000" stroke-width="0.3">10<tspan font-size="8" dy="-4">3</tspan></text>
<text x="325.59999999999997" y="726.5" font-family='"Liberation Serif", serif' font-size="12" font-weight="bold" text-anchor="start" stroke="#000" stroke-width="0.3">10<tspan font-size="8" dy="-4">4</tspan></text>
<path transform="translate(0 0.8)" d="M194.6 711.1 L195.5 711.1 L195.5 664.4 L196.4 664.4 L196.4 666.5 L197.3 666.5 L197.3 673.0 L198.2 673.0 L198.2 664.2 L199.1 664.2 L199.1 651.1 L200.0 651.1 L200.0 630.9 L200.9 630.9 L200.9 614.7 L201.8 614.7 L201.8 600.1 L202.7 600.1 L202.7 597.4 L203.6 597.4 L203.6 574.9 L204.5 574.9 L204.5 576.8 L205.4 576.8 L205.4 579.3 L206.3 579.3 L206.3 577.0 L207.2 577.0 L207.2 588.9 L208.1 588.9 L208.1 607.8 L209.0 607.8 L209.0 610.4 L209.9 610.4 L209.9 623.1 L210.8 623.1 L210.8 637.1 L211.7 637.1 L211.7 641.7 L212.6 641.7 L212.6 657.7 L213.5 657.7 L213.5 663.0 L214.4 663.0 L214.4 672.9 L215.3 672.9 L215.3 682.0 L216.2 682.0 L216.2 689.2 L217.1 689.2 L217.1 691.4 L218.0 691.4 L218.0 693.8 L218.9 693.8 L218.9 696.8 L219.8 696.8 L219.8 701.0 L220.7 701.0 L220.7 703.1 L221.6 703.1 L221.6 705.5 L222.5 705.5 L222.5 705.6 L223.4 705.6 L223.4 706.0 L224.3 706.0 L224.3 706.4 L225.2 706.4 L225.2 709.0 L226.1 709.0 L226.1 709.5 L227.0 709.5 L227.0 710.9 L227.9 710.9 Z" fill="#c9c5c2" stroke="none"/>
<path transform="translate(0 0.8)" d="M194.6 711.1 L195.5 711.1 L195.5 664.4 L196.4 664.4 L196.4 666.5 L197.3 666.5 L197.3 673.0 L198.2 673.0 L198.2 664.2 L199.1 664.2 L199.1 651.1 L200.0 651.1 L200.0 630.9 L200.9 630.9 L200.9 614.7 L201.8 614.7 L201.8 600.1 L202.7 600.1 L202.7 597.4 L203.6 597.4 L203.6 574.9 L204.5 574.9 L204.5 576.8 L205.4 576.8 L205.4 579.3 L206.3 579.3 L206.3 577.0 L207.2 577.0 L207.2 588.9 L208.1 588.9 L208.1 607.8 L209.0 607.8 L209.0 610.4 L209.9 610.4 L209.9 623.1 L210.8 623.1 L210.8 637.1 L211.7 637.1 L211.7 641.7 L212.6 641.7 L212.6 657.7 L213.5 657.7 L213.5 663.0 L214.4 663.0 L214.4 672.9 L215.3 672.9 L215.3 682.0 L216.2 682.0 L216.2 689.2 L217.1 689.2 L217.1 691.4 L218.0 691.4 L218.0 693.8 L218.9 693.8 L218.9 696.8 L219.8 696.8 L219.8 701.0 L220.7 701.0 L220.7 703.1 L221.6 703.1 L221.6 705.5 L222.5 705.5 L222.5 705.6 L223.4 705.6 L223.4 706.0 L224.3 706.0 L224.3 706.4 L225.2 706.4 L225.2 709.0 L226.1 709.0 L226.1 709.5 L227.0 709.5 L227.0 710.9 L227.9 710.9" fill="none" stroke="#555" stroke-width="0.9" stroke-linejoin="miter" opacity="1"/>
<path transform="translate(0 0.8)" d="M196.0 711.0 L196.9 711.0 L196.9 700.5 L197.8 700.5 L197.8 688.9 L198.7 688.9 L198.7 677.9 L199.6 677.9 L199.6 667.5 L200.5 667.5 L200.5 654.3 L201.4 654.3 L201.4 645.1 L202.3 645.1 L202.3 636.0 L203.2 636.0 L203.2 621.3 L204.1 621.3 L204.1 616.2 L205.0 616.2 L205.0 612.0 L205.9 612.0 L205.9 600.2 L206.8 600.2 L206.8 597.6 L207.7 597.6 L207.7 584.7 L208.6 584.7 L208.6 586.0 L209.5 586.0 L209.5 593.0 L210.4 593.0 L210.4 597.8 L211.3 597.8 L211.3 613.4 L212.2 613.4 L212.2 619.7 L213.1 619.7 L213.1 634.0 L214.0 634.0 L214.0 644.1 L214.9 644.1 L214.9 656.3 L215.8 656.3 L215.8 667.4 L216.7 667.4 L216.7 675.8 L217.6 675.8 L217.6 685.1 L218.5 685.1 L218.5 685.6 L219.4 685.6 L219.4 688.7 L220.3 688.7 L220.3 694.3 L221.2 694.3 L221.2 697.8 L222.1 697.8 L222.1 702.1 L223.0 702.1 L223.0 704.8 L223.9 704.8 L223.9 703.8 L224.8 703.8 L224.8 703.5 L225.7 703.5 L225.7 705.8 L226.6 705.8 L226.6 707.1 L227.5 707.1 L227.5 707.3 L228.4 707.3 L228.4 708.4 L229.3 708.4 L229.3 709.2 L230.2 709.2" fill="none" stroke="#444" stroke-width="0.8" stroke-linejoin="miter" opacity="1"/>
<path transform="translate(0 0.8)" d="M199.5 711.0 L200.4 711.0 L200.4 705.4 L201.3 705.4 L201.3 699.7 L202.2 699.7 L202.2 694.5 L203.1 694.5 L203.1 687.7 L204.0 687.7 L204.0 684.2 L204.9 684.2 L204.9 671.1 L205.8 671.1 L205.8 655.9 L206.7 655.9 L206.7 644.4 L207.6 644.4 L207.6 627.1 L208.5 627.1 L208.5 615.4 L209.4 615.4 L209.4 603.7 L210.3 603.7 L210.3 597.2 L211.2 597.2 L211.2 592.8 L212.1 592.8 L212.1 579.7 L213.0 579.7 L213.0 586.7 L213.9 586.7 L213.9 595.7 L214.8 595.7 L214.8 594.9 L215.7 594.9 L215.7 606.5 L216.6 606.5 L216.6 620.1 L217.5 620.1 L217.5 629.7 L218.4 629.7 L218.4 634.0 L219.3 634.0 L219.3 651.2 L220.2 651.2 L220.2 661.0 L221.1 661.0 L221.1 667.1 L222.0 667.1 L222.0 676.9 L222.9 676.9 L222.9 682.4 L223.8 682.4 L223.8 686.5 L224.7 686.5 L224.7 688.4 L225.6 688.4 L225.6 691.6 L226.5 691.6 L226.5 693.3 L227.4 693.3 L227.4 697.0 L228.3 697.0 L228.3 697.3 L229.2 697.3 L229.2 698.4 L230.1 698.4 L230.1 699.9 L231.0 699.9 L231.0 700.6 L231.9 700.6 L231.9 701.0 L232.8 701.0 L232.8 703.2 L233.7 703.2 L233.7 703.0 L234.6 703.0 L234.6 704.8 L235.5 704.8 L235.5 705.4 L236.4 705.4 L236.4 705.2 L237.3 705.2 L237.3 705.6 L238.2 705.6 L238.2 706.2 L239.1 706.2 L239.1 706.6 L240.0 706.6 L240.0 706.3 L240.9 706.3 L240.9 706.1 L241.8 706.1 L241.8 707.9 L242.7 707.9 L242.7 707.4 L243.6 707.4 L243.6 708.6 L244.5 708.6 L244.5 709.4 L245.4 709.4 L245.4 708.9 L246.3 708.9 L246.3 709.2 L247.2 709.2 L247.2 709.6 L248.1 709.6 L248.1 709.6 L249.0 709.6 L249.0 709.8 L249.9 709.8 L249.9 710.1 L250.8 710.1 L250.8 710.3 L251.7 710.3 L251.7 710.6 L252.6 710.6 L252.6 710.5 L253.5 710.5 L253.5 711.0 L254.4 711.0" fill="none" stroke="#111" stroke-width="1.7" stroke-linejoin="miter" opacity="1"/>
<path transform="translate(0 0.8)" d="M197.9 711.1 L198.8 711.1 L198.8 706.7 L199.7 706.7 L199.7 703.1 L200.6 703.1 L200.6 699.1 L201.5 699.1 L201.5 696.6 L202.4 696.6 L202.4 691.4 L203.3 691.4 L203.3 685.2 L204.2 685.2 L204.2 673.9 L205.1 673.9 L205.1 662.7 L206.0 662.7 L206.0 650.8 L206.9 650.8 L206.9 644.4 L207.8 644.4 L207.8 632.0 L208.7 632.0 L208.7 617.8 L209.6 617.8 L209.6 616.4 L210.5 616.4 L210.5 608.0 L211.4 608.0 L211.4 597.9 L212.3 597.9 L212.3 590.5 L213.2 590.5 L213.2 568.4 L214.1 568.4 L214.1 580.6 L215.0 580.6 L215.0 575.3 L215.9 575.3 L215.9 562.0 L216.8 562.0 L216.8 578.4 L217.7 578.4 L217.7 583.5 L218.6 583.5 L218.6 581.0 L219.5 581.0 L219.5 575.4 L220.4 575.4 L220.4 600.5 L221.3 600.5 L221.3 592.2 L222.2 592.2 L222.2 610.9 L223.1 610.9 L223.1 614.5 L224.0 614.5 L224.0 637.4 L224.9 637.4 L224.9 634.9 L225.8 634.9 L225.8 647.6 L226.7 647.6 L226.7 657.6 L227.6 657.6 L227.6 662.4 L228.5 662.4 L228.5 677.3 L229.4 677.3 L229.4 681.1 L230.3 681.1 L230.3 683.4 L231.2 683.4 L231.2 686.8 L232.1 686.8 L232.1 689.5 L233.0 689.5 L233.0 692.7 L233.9 692.7 L233.9 693.9 L234.8 693.9 L234.8 694.1 L235.7 694.1 L235.7 696.5 L236.6 696.5 L236.6 695.9 L237.5 695.9 L237.5 698.8 L238.4 698.8 L238.4 697.4 L239.3 697.4 L239.3 699.4 L240.2 699.4 L240.2 700.3 L241.1 700.3 L241.1 701.7 L242.0 701.7 L242.0 701.8 L242.9 701.8 L242.9 701.9 L243.8 701.9 L243.8 702.3 L244.7 702.3 L244.7 702.8 L245.6 702.8 L245.6 702.3 L246.5 702.3 L246.5 703.7 L247.4 703.7 L247.4 704.8 L248.3 704.8 L248.3 704.8 L249.2 704.8 L249.2 705.4 L250.1 705.4 L250.1 705.4 L251.0 705.4 L251.0 706.1 L251.9 706.1 L251.9 707.4 L252.8 707.4 L252.8 708.2 L253.7 708.2 L253.7 709.5 L254.6 709.5 L254.6 709.0 L255.5 709.0 L255.5 709.4 L256.4 709.4 L256.4 709.6 L257.3 709.6 L257.3 710.2 L258.2 710.2 L258.2 710.6 L259.1 710.6 L259.1 710.2 L260.0 710.2 L260.0 711.0 L260.9 711.0" fill="none" stroke="#4f9a2e" stroke-width="1.25" stroke-linejoin="miter" opacity="1"/>
<path transform="translate(0 0.8)" d="M197.9 711.3 L198.8 711.3 L198.8 710.8 L199.7 710.8 L199.7 709.6 L200.6 709.6 L200.6 709.3 L201.5 709.3 L201.5 708.3 L202.4 708.3 L202.4 707.7 L203.3 707.7 L203.3 707.7 L204.2 707.7 L204.2 705.7 L205.1 705.7 L205.1 706.0 L206.0 706.0 L206.0 704.4 L206.9 704.4 L206.9 702.4 L207.8 702.4 L207.8 705.2 L208.7 705.2 L208.7 702.5 L209.6 702.5 L209.6 703.0 L210.5 703.0 L210.5 704.9 L211.4 704.9 L211.4 704.3 L212.3 704.3 L212.3 705.9 L213.2 705.9 L213.2 700.9 L214.1 700.9 L214.1 703.8 L215.0 703.8 L215.0 702.5 L215.9 702.5 L215.9 700.5 L216.8 700.5 L216.8 701.3 L217.7 701.3 L217.7 700.9 L218.6 700.9 L218.6 700.8 L219.5 700.8 L219.5 700.9 L220.4 700.9 L220.4 703.9 L221.3 703.9 L221.3 702.9 L222.2 702.9 L222.2 701.5 L223.1 701.5 L223.1 701.2 L224.0 701.2 L224.0 703.0 L224.9 703.0 L224.9 703.3 L225.8 703.3 L225.8 699.9 L226.7 699.9 L226.7 700.2 L227.6 700.2 L227.6 698.3 L228.5 698.3 L228.5 697.5 L229.4 697.5 L229.4 697.1 L230.3 697.1 L230.3 698.2 L231.2 698.2 L231.2 697.1 L232.1 697.1 L232.1 689.9 L233.0 689.9 L233.0 690.8 L233.9 690.8 L233.9 686.0 L234.8 686.0 L234.8 684.5 L235.7 684.5 L235.7 685.6 L236.6 685.6 L236.6 678.2 L237.5 678.2 L237.5 682.0 L238.4 682.0 L238.4 678.7 L239.3 678.7 L239.3 668.2 L240.2 668.2 L240.2 668.7 L241.1 668.7 L241.1 661.8 L242.0 661.8 L242.0 666.0 L242.9 666.0 L242.9 652.6 L243.8 652.6 L243.8 650.6 L244.7 650.6 L244.7 649.5 L245.6 649.5 L245.6 644.3 L246.5 644.3 L246.5 651.6 L247.4 651.6 L247.4 636.7 L248.3 636.7 L248.3 635.0 L249.2 635.0 L249.2 612.6 L250.1 612.6 L250.1 620.5 L251.0 620.5 L251.0 600.2 L251.9 600.2 L251.9 611.9 L252.8 611.9 L252.8 606.5 L253.7 606.5 L253.7 599.3 L254.6 599.3 L254.6 596.5 L255.5 596.5 L255.5 602.0 L256.4 602.0 L256.4 598.4 L257.3 598.4 L257.3 590.7 L258.2 590.7 L258.2 605.9 L259.1 605.9 L259.1 599.9 L260.0 599.9 L260.0 610.0 L260.9 610.0 L260.9 611.4 L261.8 611.4 L261.8 623.8 L262.7 623.8 L262.7 632.4 L263.6 632.4 L263.6 640.3 L264.5 640.3 L264.5 644.3 L265.4 644.3 L265.4 645.6 L266.3 645.6 L266.3 652.4 L267.2 652.4 L267.2 664.9 L268.1 664.9 L268.1 671.0 L269.0 671.0 L269.0 674.9 L269.9 674.9 L269.9 674.9 L270.8 674.9 L270.8 680.0 L271.7 680.0 L271.7 681.9 L272.6 681.9 L272.6 681.5 L273.5 681.5 L273.5 681.3 L274.4 681.3 L274.4 689.1 L275.3 689.1 L275.3 689.0 L276.2 689.0 L276.2 696.2 L277.1 696.2 L277.1 698.5 L278.0 698.5 L278.0 702.5 L278.9 702.5 L278.9 705.1 L279.8 705.1 L279.8 705.7 L280.7 705.7 L280.7 708.2 L281.6 708.2 L281.6 710.1 L282.5 710.1 L282.5 709.5 L283.4 709.5 L283.4 710.6 L284.3 710.6 L284.3 711.1 L285.2 711.1" fill="none" stroke="#e8321e" stroke-width="1.3" stroke-linejoin="miter" opacity="1"/>
<text x="234.3" y="754" font-family='"Liberation Sans", sans-serif' font-size="21.6" font-weight="bold" text-anchor="start" lengthAdjust="spacingAndGlyphs" textLength="46.8">TF1<tspan font-family='"Liberation Serif", serif' font-weight="normal" font-size="22.5" stroke="#000" stroke-width="0.45">β</tspan></text>
<line x1="362.2" y1="565.4" x2="362.2" y2="713" stroke="#8a8a8a" stroke-width="1"/>
<line x1="362.2" y1="601.9" x2="364.2" y2="601.9" stroke="#777" stroke-width="0.9"/>
<line x1="362.2" y1="638.6" x2="364.2" y2="638.6" stroke="#777" stroke-width="0.9"/>
<line x1="362.2" y1="675.4" x2="364.2" y2="675.4" stroke="#777" stroke-width="0.9"/>
<line x1="362.2" y1="712.3" x2="502.5" y2="712.3" stroke="#8c8c8c" stroke-width="1.7"/>
<text x="342.6" y="568.2" font-family='"Liberation Serif", serif' font-size="16.3" font-weight="bold" text-anchor="start" lengthAdjust="spacingAndGlyphs" textLength="14.8" stroke="#000" stroke-width="0.3">64</text>
<text x="349.8" y="714.1" font-family='"Liberation Serif", serif' font-size="16.3" font-weight="bold" text-anchor="start" lengthAdjust="spacingAndGlyphs" textLength="7.4" stroke="#000" stroke-width="0.3">0</text>
<text x="358.79999999999995" y="726.5" font-family='"Liberation Serif", serif' font-size="12" font-weight="bold" text-anchor="start" stroke="#000" stroke-width="0.3">10<tspan font-size="8" dy="-4">0</tspan></text>
<text x="394.2" y="726.5" font-family='"Liberation Serif", serif' font-size="12" font-weight="bold" text-anchor="start" stroke="#000" stroke-width="0.3">10<tspan font-size="8" dy="-4">1</tspan></text>
<text x="432.7" y="726.5" font-family='"Liberation Serif", serif' font-size="12" font-weight="bold" text-anchor="start" stroke="#000" stroke-width="0.3">10<tspan font-size="8" dy="-4">2</tspan></text>
<text x="464.29999999999995" y="726.5" font-family='"Liberation Serif", serif' font-size="12" font-weight="bold" text-anchor="start" stroke="#000" stroke-width="0.3">10<tspan font-size="8" dy="-4">3</tspan></text>
<text x="498.2" y="726.5" font-family='"Liberation Serif", serif' font-size="12" font-weight="bold" text-anchor="start" stroke="#000" stroke-width="0.3">10<tspan font-size="8" dy="-4">4</tspan></text>
<path transform="translate(0 0.8)" d="M363.5 711.3 L364.4 711.3 L364.4 706.3 L365.3 706.3 L365.3 701.6 L366.2 701.6 L366.2 695.5 L367.1 695.5 L367.1 688.9 L368.0 688.9 L368.0 684.2 L368.9 684.2 L368.9 675.4 L369.8 675.4 L369.8 661.0 L370.7 661.0 L370.7 650.0 L371.6 650.0 L371.6 638.7 L372.5 638.7 L372.5 622.6 L373.4 622.6 L373.4 614.3 L374.3 614.3 L374.3 603.1 L375.2 603.1 L375.2 606.4 L376.1 606.4 L376.1 601.2 L377.0 601.2 L377.0 599.2 L377.9 599.2 L377.9 593.0 L378.8 593.0 L378.8 592.5 L379.7 592.5 L379.7 589.7 L380.6 589.7 L380.6 592.6 L381.5 592.6 L381.5 588.3 L382.4 588.3 L382.4 605.0 L383.3 605.0 L383.3 600.7 L384.2 600.7 L384.2 619.4 L385.1 619.4 L385.1 628.2 L386.0 628.2 L386.0 642.5 L386.9 642.5 L386.9 657.6 L387.8 657.6 L387.8 667.8 L388.7 667.8 L388.7 680.1 L389.6 680.1 L389.6 690.5 L390.5 690.5 L390.5 696.7 L391.4 696.7 L391.4 702.8 L392.3 702.8 L392.3 704.9 L393.2 704.9 L393.2 706.3 L394.1 706.3 L394.1 707.2 L395.0 707.2 L395.0 709.2 L395.9 709.2 L395.9 710.2 L396.8 710.2 Z" fill="#c9c5c2" stroke="none"/>
<path transform="translate(0 0.8)" d="M363.5 711.3 L364.4 711.3 L364.4 706.3 L365.3 706.3 L365.3 701.6 L366.2 701.6 L366.2 695.5 L367.1 695.5 L367.1 688.9 L368.0 688.9 L368.0 684.2 L368.9 684.2 L368.9 675.4 L369.8 675.4 L369.8 661.0 L370.7 661.0 L370.7 650.0 L371.6 650.0 L371.6 638.7 L372.5 638.7 L372.5 622.6 L373.4 622.6 L373.4 614.3 L374.3 614.3 L374.3 603.1 L375.2 603.1 L375.2 606.4 L376.1 606.4 L376.1 601.2 L377.0 601.2 L377.0 599.2 L377.9 599.2 L377.9 593.0 L378.8 593.0 L378.8 592.5 L379.7 592.5 L379.7 589.7 L380.6 589.7 L380.6 592.6 L381.5 592.6 L381.5 588.3 L382.4 588.3 L382.4 605.0 L383.3 605.0 L383.3 600.7 L384.2 600.7 L384.2 619.4 L385.1 619.4 L385.1 628.2 L386.0 628.2 L386.0 642.5 L386.9 642.5 L386.9 657.6 L387.8 657.6 L387.8 667.8 L388.7 667.8 L388.7 680.1 L389.6 680.1 L389.6 690.5 L390.5 690.5 L390.5 696.7 L391.4 696.7 L391.4 702.8 L392.3 702.8 L392.3 704.9 L393.2 704.9 L393.2 706.3 L394.1 706.3 L394.1 707.2 L395.0 707.2 L395.0 709.2 L395.9 709.2 L395.9 710.2 L396.8 710.2" fill="none" stroke="#555" stroke-width="0.9" stroke-linejoin="miter" opacity="1"/>
<path transform="translate(0 0.8)" d="M363.0 705.4 L363.9 705.4 L363.9 697.9 L364.8 697.9 L364.8 688.2 L365.7 688.2 L365.7 678.5 L366.6 678.5 L366.6 665.9 L367.5 665.9 L367.5 657.6 L368.4 657.6 L368.4 639.6 L369.3 639.6 L369.3 628.0 L370.2 628.0 L370.2 616.4 L371.1 616.4 L371.1 611.0 L372.0 611.0 L372.0 604.4 L372.9 604.4 L372.9 602.7 L373.8 602.7 L373.8 595.2 L374.7 595.2 L374.7 594.6 L375.6 594.6 L375.6 596.5 L376.5 596.5 L376.5 596.8 L377.4 596.8 L377.4 590.5 L378.3 590.5 L378.3 589.6 L379.2 589.6 L379.2 605.8 L380.1 605.8 L380.1 615.1 L381.0 615.1 L381.0 634.2 L381.9 634.2 L381.9 643.8 L382.8 643.8 L382.8 657.2 L383.7 657.2 L383.7 671.7 L384.6 671.7 L384.6 685.3 L385.5 685.3 L385.5 693.1 L386.4 693.1 L386.4 697.2 L387.3 697.2 L387.3 699.4 L388.2 699.4 L388.2 704.3 L389.1 704.3 L389.1 708.2 L390.0 708.2 L390.0 709.1 L390.9 709.1 L390.9 709.0 L391.8 709.0 L391.8 710.0 L392.7 710.0 L392.7 710.4 L393.6 710.4 L393.6 710.9 L394.5 710.9" fill="none" stroke="#111" stroke-width="1.1" stroke-linejoin="miter" opacity="1" stroke-dasharray="3 1.2"/>
<path transform="translate(0 0.8)" d="M366.5 711.1 L367.4 711.1 L367.4 703.5 L368.3 703.5 L368.3 696.3 L369.2 696.3 L369.2 690.6 L370.1 690.6 L370.1 684.0 L371.0 684.0 L371.0 674.1 L371.9 674.1 L371.9 661.9 L372.8 661.9 L372.8 650.9 L373.7 650.9 L373.7 631.8 L374.6 631.8 L374.6 624.8 L375.5 624.8 L375.5 627.4 L376.4 627.4 L376.4 604.7 L377.3 604.7 L377.3 597.4 L378.2 597.4 L378.2 592.9 L379.1 592.9 L379.1 588.9 L380.0 588.9 L380.0 598.3 L380.9 598.3 L380.9 599.5 L381.8 599.5 L381.8 595.5 L382.7 595.5 L382.7 610.8 L383.6 610.8 L383.6 611.8 L384.5 611.8 L384.5 630.3 L385.4 630.3 L385.4 631.6 L386.3 631.6 L386.3 651.3 L387.2 651.3 L387.2 663.1 L388.1 663.1 L388.1 674.1 L389.0 674.1 L389.0 688.9 L389.9 688.9 L389.9 692.1 L390.8 692.1 L390.8 695.1 L391.7 695.1 L391.7 699.9 L392.6 699.9 L392.6 703.2 L393.5 703.2 L393.5 706.3 L394.4 706.3 L394.4 706.3 L395.3 706.3 L395.3 708.5 L396.2 708.5 L396.2 708.7 L397.1 708.7 L397.1 709.0 L398.0 709.0 L398.0 710.0 L398.9 710.0 L398.9 711.2 L399.8 711.2" fill="none" stroke="#111" stroke-width="1.5" stroke-linejoin="miter" opacity="1"/>
<path transform="translate(0 0.8)" d="M376.0 711.3 L376.9 711.3 L376.9 709.4 L377.8 709.4 L377.8 707.7 L378.7 707.7 L378.7 705.6 L379.6 705.6 L379.6 703.3 L380.5 703.3 L380.5 701.5 L381.4 701.5 L381.4 698.9 L382.3 698.9 L382.3 697.2 L383.2 697.2 L383.2 689.9 L384.1 689.9 L384.1 682.1 L385.0 682.1 L385.0 673.3 L385.9 673.3 L385.9 660.2 L386.8 660.2 L386.8 640.1 L387.7 640.1 L387.7 622.3 L388.6 622.3 L388.6 602.7 L389.5 602.7 L389.5 594.6 L390.4 594.6 L390.4 576.1 L391.3 576.1 L391.3 578.7 L392.2 578.7 L392.2 565.9 L393.1 565.9 L393.1 563.4 L394.0 563.4 L394.0 565.1 L394.9 565.1 L394.9 566.0 L395.8 566.0 L395.8 574.2 L396.7 574.2 L396.7 600.2 L397.6 600.2 L397.6 620.9 L398.5 620.9 L398.5 638.0 L399.4 638.0 L399.4 655.8 L400.3 655.8 L400.3 678.4 L401.2 678.4 L401.2 686.2 L402.1 686.2 L402.1 691.2 L403.0 691.2 L403.0 695.8 L403.9 695.8 L403.9 700.9 L404.8 700.9 L404.8 702.8 L405.7 702.8 L405.7 704.8 L406.6 704.8 L406.6 707.1 L407.5 707.1 L407.5 708.3 L408.4 708.3 L408.4 710.4 L409.3 710.4" fill="none" stroke="#4f9a2e" stroke-width="1.15" stroke-linejoin="miter" opacity="1"/>
<path transform="translate(0 0.8)" d="M382.5 711.3 L383.4 711.3 L383.4 708.6 L384.3 708.6 L384.3 706.4 L385.2 706.4 L385.2 704.8 L386.1 704.8 L386.1 701.1 L387.0 701.1 L387.0 700.6 L387.9 700.6 L387.9 696.1 L388.8 696.1 L388.8 695.0 L389.7 695.0 L389.7 687.5 L390.6 687.5 L390.6 680.5 L391.5 680.5 L391.5 671.9 L392.4 671.9 L392.4 663.5 L393.3 663.5 L393.3 651.8 L394.2 651.8 L394.2 633.1 L395.1 633.1 L395.1 622.7 L396.0 622.7 L396.0 606.2 L396.9 606.2 L396.9 597.7 L397.8 597.7 L397.8 593.7 L398.7 593.7 L398.7 593.2 L399.6 593.2 L399.6 583.0 L400.5 583.0 L400.5 577.1 L401.4 577.1 L401.4 583.6 L402.3 583.6 L402.3 595.6 L403.2 595.6 L403.2 595.7 L404.1 595.7 L404.1 616.8 L405.0 616.8 L405.0 635.1 L405.9 635.1 L405.9 650.7 L406.8 650.7 L406.8 662.9 L407.7 662.9 L407.7 678.4 L408.6 678.4 L408.6 683.8 L409.5 683.8 L409.5 690.9 L410.4 690.9 L410.4 695.9 L411.3 695.9 L411.3 700.8 L412.2 700.8 L412.2 701.8 L413.1 701.8 L413.1 702.2 L414.0 702.2 L414.0 702.7 L414.9 702.7 L414.9 704.6 L415.8 704.6 L415.8 704.9 L416.7 704.9 L416.7 705.9 L417.6 705.9 L417.6 706.2 L418.5 706.2 L418.5 706.1 L419.4 706.1 L419.4 706.8 L420.3 706.8 L420.3 709.0 L421.2 709.0 L421.2 708.2 L422.1 708.2 L422.1 709.1 L423.0 709.1 L423.0 710.1 L423.9 710.1 L423.9 710.4 L424.8 710.4 L424.8 710.5 L425.7 710.5 L425.7 710.9 L426.6 710.9 L426.6 710.9 L427.5 710.9 L427.5 711.1 L428.4 711.1" fill="none" stroke="#e8321e" stroke-width="1.15" stroke-linejoin="miter" opacity="1"/>
<text x="401.2" y="753.6" font-family='"Liberation Sans", sans-serif' font-size="21.8" font-weight="bold" text-anchor="start" lengthAdjust="spacingAndGlyphs" textLength="65.5">M07Sb</text>
<line x1="3" y1="771.8" x2="33" y2="771.8" stroke="#222" stroke-width="1.1"/>
<text x="46.3" y="776.6" font-family='"Liberation Sans", sans-serif' font-size="16.6" font-weight="normal" text-anchor="start" stroke="#000" stroke-width="0.2" lengthAdjust="spacingAndGlyphs" textLength="25">IgG</text>
<rect x="95.8" y="769.6" width="29.2" height="4.4" fill="#000"/>
<text x="138.8" y="780" font-family='"Liberation Sans", sans-serif' font-size="16.6" font-weight="normal" text-anchor="start" stroke="#000" stroke-width="0.2" lengthAdjust="spacingAndGlyphs" textLength="90">Anti-IL-15Rα</text>
<rect x="243.2" y="770.6" width="29.6" height="4.6" fill="#e8401c"/>
<text x="286.3" y="782" font-family='"Liberation Sans", sans-serif' font-size="16.6" font-weight="normal" text-anchor="start" stroke="#000" stroke-width="0.2" lengthAdjust="spacingAndGlyphs" textLength="87.7">Anti-IL-15R<tspan font-family='"Liberation Serif", serif'>β</tspan></text>
<rect x="389.4" y="770.6" width="29.6" height="4.6" fill="#4f9a2e"/>
<text x="432.5" y="780.6" font-family='"Liberation Sans", sans-serif' font-size="16.6" font-weight="normal" text-anchor="start" stroke="#000" stroke-width="0.2" lengthAdjust="spacingAndGlyphs" textLength="78.9">Anti-IL-2R<tspan font-family='"Liberation Serif", serif'>γ</tspan></text>
</svg>
</body></html>
